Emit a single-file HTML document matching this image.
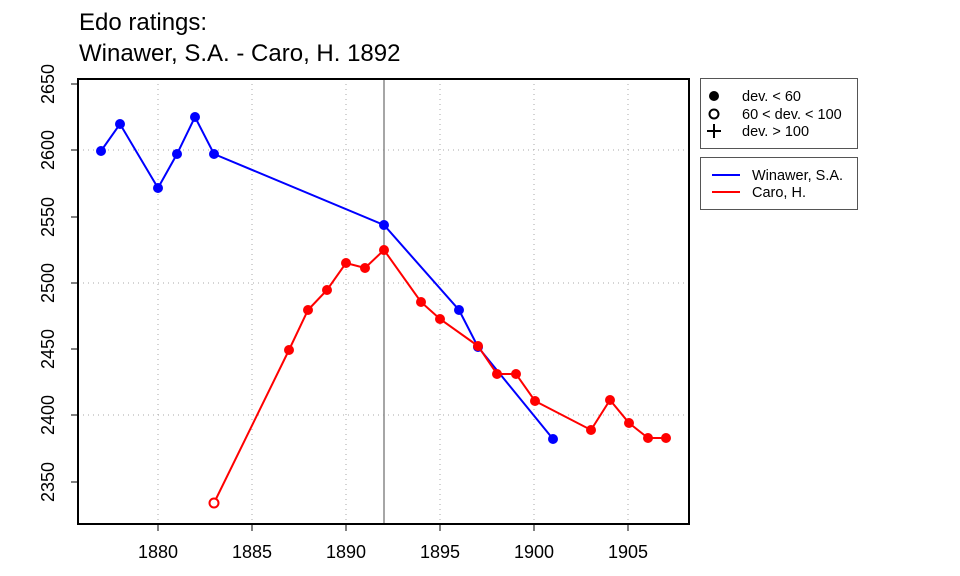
<!DOCTYPE html>
<html><head><meta charset="utf-8"><style>
html,body{margin:0;padding:0;background:#fff;}
svg{display:block;font-family:"Liberation Sans",Arial,sans-serif;}
</style></head><body>
<svg width="960" height="576" viewBox="0 0 960 576" xmlns="http://www.w3.org/2000/svg">
<text x="79" y="30" font-size="24">Edo ratings:</text>
<text x="79" y="61" font-size="24">Winawer, S.A. - Caro, H. 1892</text>
<g stroke="#aaa" stroke-width="1" stroke-dasharray="1,4">
<line x1="78" y1="150" x2="689" y2="150"/><line x1="78" y1="283" x2="689" y2="283"/><line x1="78" y1="415" x2="689" y2="415"/>
<line x1="158" y1="79" x2="158" y2="524"/><line x1="252" y1="79" x2="252" y2="524"/><line x1="346" y1="79" x2="346" y2="524"/>
<line x1="440" y1="79" x2="440" y2="524"/><line x1="534" y1="79" x2="534" y2="524"/><line x1="628" y1="79" x2="628" y2="524"/>
</g>
<line x1="384" y1="79" x2="384" y2="524" stroke="#888" stroke-width="1.5"/>
<polyline fill="none" stroke="#00f" stroke-width="2" points="101,151 120,124 158,188 177,154 195,117 214,154 384,225 459,310 478,347 553,439"/>
<g fill="#00f"><circle cx="101" cy="151" r="5"/><circle cx="120" cy="124" r="5"/><circle cx="158" cy="188" r="5"/><circle cx="177" cy="154" r="5"/><circle cx="195" cy="117" r="5"/><circle cx="214" cy="154" r="5"/><circle cx="384" cy="225" r="5"/><circle cx="459" cy="310" r="5"/><circle cx="478" cy="347" r="5"/><circle cx="553" cy="439" r="5"/></g>
<polyline fill="none" stroke="#f00" stroke-width="2" points="214,503 289,350 308,310 327,290 346,263 365,268 384,250 421,302 440,319 478,346 497,374 516,374 535,401 591,430 610,400 629,423 648,438 666,438"/>
<circle cx="214" cy="503" r="4.5" fill="#fff" stroke="#f00" stroke-width="2"/>
<g fill="#f00"><circle cx="289" cy="350" r="5"/><circle cx="308" cy="310" r="5"/><circle cx="327" cy="290" r="5"/><circle cx="346" cy="263" r="5"/><circle cx="365" cy="268" r="5"/><circle cx="384" cy="250" r="5"/><circle cx="421" cy="302" r="5"/><circle cx="440" cy="319" r="5"/><circle cx="478" cy="346" r="5"/><circle cx="497" cy="374" r="5"/><circle cx="516" cy="374" r="5"/><circle cx="535" cy="401" r="5"/><circle cx="591" cy="430" r="5"/><circle cx="610" cy="400" r="5"/><circle cx="629" cy="423" r="5"/><circle cx="648" cy="438" r="5"/><circle cx="666" cy="438" r="5"/></g>
<rect x="78" y="79" width="611" height="445" fill="none" stroke="#000" stroke-width="2"/>
<g stroke="#000" stroke-width="1">
<line x1="71" y1="84" x2="78" y2="84"/><line x1="71" y1="150" x2="78" y2="150"/><line x1="71" y1="217" x2="78" y2="217"/><line x1="71" y1="283" x2="78" y2="283"/><line x1="71" y1="349" x2="78" y2="349"/><line x1="71" y1="415" x2="78" y2="415"/><line x1="71" y1="482" x2="78" y2="482"/>
<line x1="158" y1="524" x2="158" y2="531"/><line x1="252" y1="524" x2="252" y2="531"/><line x1="346" y1="524" x2="346" y2="531"/><line x1="440" y1="524" x2="440" y2="531"/><line x1="534" y1="524" x2="534" y2="531"/><line x1="628" y1="524" x2="628" y2="531"/>
</g>
<g font-size="18" text-anchor="middle">
<text x="158" y="558">1880</text><text x="252" y="558">1885</text><text x="346" y="558">1890</text><text x="440" y="558">1895</text><text x="534" y="558">1900</text><text x="628" y="558">1905</text>
<text transform="translate(54,84) rotate(-90)">2650</text>
<text transform="translate(54,150) rotate(-90)">2600</text>
<text transform="translate(54,217) rotate(-90)">2550</text>
<text transform="translate(54,283) rotate(-90)">2500</text>
<text transform="translate(54,349) rotate(-90)">2450</text>
<text transform="translate(54,415) rotate(-90)">2400</text>
<text transform="translate(54,482) rotate(-90)">2350</text>
</g>
<rect x="700.5" y="78.5" width="157" height="70" fill="none" stroke="#555" stroke-width="1"/>
<circle cx="714" cy="96" r="5" fill="#000"/>
<circle cx="714" cy="114" r="4.5" fill="none" stroke="#000" stroke-width="2"/>
<path d="M707 131h14M714 124v14" stroke="#000" stroke-width="2"/>
<g font-size="14.5"><text x="742" y="101">dev. &lt; 60</text><text x="742" y="119">60 &lt; dev. &lt; 100</text><text x="742" y="136">dev. &gt; 100</text></g>
<rect x="700.5" y="157.5" width="157" height="52" fill="none" stroke="#555" stroke-width="1"/>
<line x1="712" y1="175" x2="740" y2="175" stroke="#00f" stroke-width="2"/>
<line x1="712" y1="192" x2="740" y2="192" stroke="#f00" stroke-width="2"/>
<g font-size="14.5"><text x="752" y="180">Winawer, S.A.</text><text x="752" y="197">Caro, H.</text></g>
</svg>
</body></html>
